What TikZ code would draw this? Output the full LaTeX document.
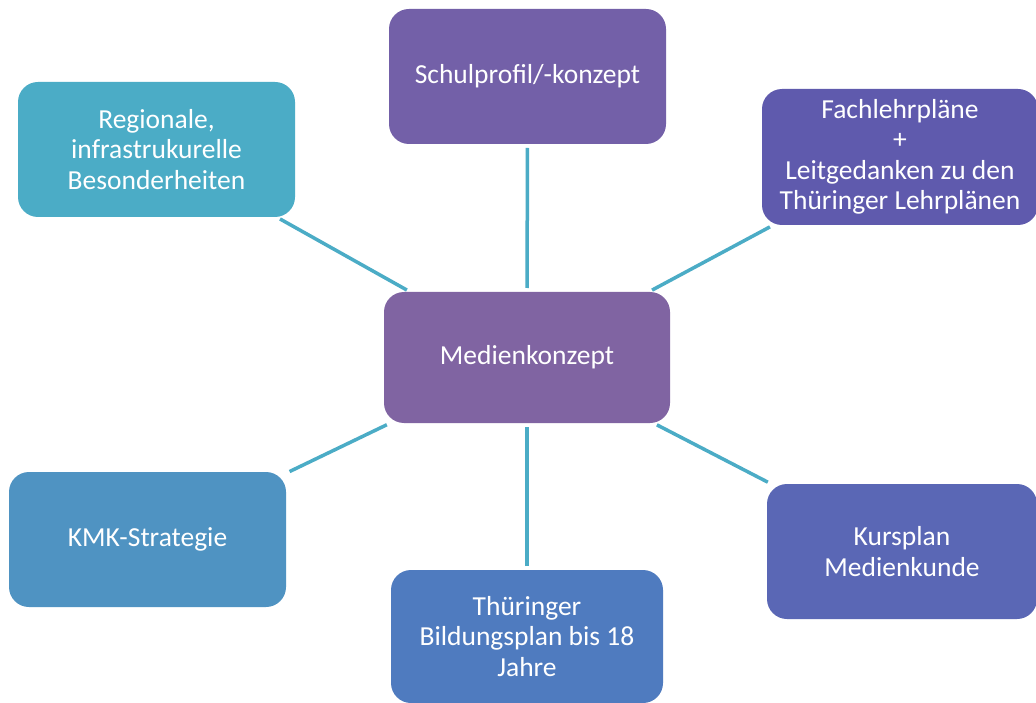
\documentclass[tikz,border=0pt]{standalone}
\usepackage{fontspec}
\setmainfont{Carlito}
\definecolor{cSchul}{HTML}{7360A8}
\definecolor{cReg}{HTML}{4BACC6}
\definecolor{cFach}{HTML}{5F5AAD}
\definecolor{cMed}{HTML}{8064A2}
\definecolor{cKMK}{HTML}{4F93C2}
\definecolor{cBild}{HTML}{4F7BBF}
\definecolor{cKurs}{HTML}{5A67B5}
\definecolor{cLine}{HTML}{4BACC6}
\tikzset{
  box/.style={rectangle, rounded corners=20pt, text=white, align=center,
    inner sep=0pt, outer sep=0pt,
    font=\fontsize{27.5}{30.5}\selectfont},
  link/.style={draw=cLine, line width=3.5pt, shorten <=4pt, shorten >=4pt}
}
\begin{document}
\begin{tikzpicture}[x=1pt,y=-1pt]
\useasboundingbox (0,0) rectangle (1036,703);
\fill[white] (0,0) rectangle (1036,703);
\node[box, fill=cSchul, minimum width=277pt, minimum height=135pt] (schul) at (527.5,76.5) {Schulprofil/-konzept};
\node[box, fill=cReg, minimum width=277pt, minimum height=135pt] (reg) at (156.5,149.5) {Regionale,\\infrastrukurelle\\Besonderheiten};
\node[box, fill=cFach, minimum width=276pt, minimum height=136pt] (fach) at (900,157) {Fachlehrpläne\\+\\Leitgedanken zu den\\Thüringer Lehrplänen};
\node[box, fill=cMed, minimum width=286pt, minimum height=131pt] (med) at (527,357.5) {Medienkonzept};
\node[box, fill=cKMK, minimum width=277pt, minimum height=135pt] (kmk) at (147.5,539.5) {KMK-Strategie};
\node[box, fill=cBild, minimum width=272pt, minimum height=133pt] (bild) at (527,636.5) {Thüringer\\Bildungsplan bis 18\\Jahre};
\node[box, fill=cKurs, minimum width=270pt, minimum height=135pt] (kurs) at (902,551.5) {Kursplan\\Medienkunde};
\draw[link] (schul) -- (med);
\draw[link] (reg) -- (med);
\draw[link] (fach) -- (med);
\draw[link] (kmk) -- (med);
\draw[link] (bild) -- (med);
\draw[link] (kurs) -- (med);
\end{tikzpicture}
\end{document}
